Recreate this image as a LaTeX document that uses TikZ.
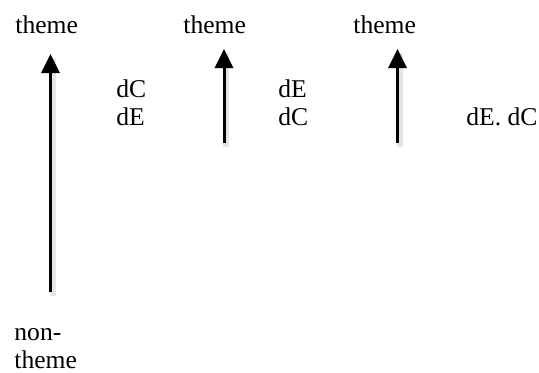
\documentclass[tikz,border=0pt]{standalone}
\usepackage{fontspec}
\setmainfont{Liberation Serif}
\usetikzlibrary{arrows.meta}

\tikzset{
  lbl/.style={inner sep=0pt, anchor=base west, align=left, font=\fontsize{12.8}{14}\selectfont},
  uparrow/.style={line width=1.5pt, -{Triangle[width=9pt,length=9.5pt]},
    preaction={draw=black!10, line width=3pt, -, transform canvas={shift={(1.2pt,-1.8pt)}}}},
}

\begin{document}
\begin{tikzpicture}[x=0.5pt,y=-0.5pt]
\useasboundingbox (0,0) rectangle (539,372);

% column heads (base of a two-line node is its last line)
\node[lbl] (th1) at (15,33) {theme};
\node[lbl] (th2) at (183,33) {theme};
\node[lbl] (th3) at (353,33) {theme};
\node[lbl] (nt) at (14,368) {non-\\theme};

% arrows
\coordinate (a1) at (50.5,292);
\coordinate (b1) at (50.5,54);
\coordinate (a2) at (224,143);
\coordinate (b2) at (224,49);
\coordinate (a3) at (397.5,143);
\coordinate (b3) at (397.5,49);
\draw[uparrow] (a1) -- (b1);
\draw[uparrow] (a2) -- (b2);
\draw[uparrow] (a3) -- (b3);

% labels
\node[lbl] (d1) at (116,125) {dC\\dE};
\node[lbl] (d2) at (278,125) {dE\\dC};
\node[lbl] (d3) at (466,125) {dE. dC};
\end{tikzpicture}
\end{document}
